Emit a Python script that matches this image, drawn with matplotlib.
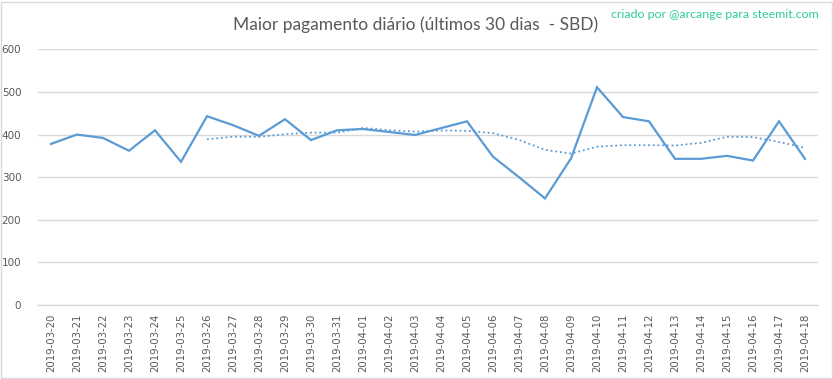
import matplotlib
matplotlib.use("Agg")
import matplotlib.pyplot as plt
import pandas as pd
from matplotlib.patches import Rectangle

dates = ["2019-03-20", "2019-03-21", "2019-03-22", "2019-03-23", "2019-03-24",
         "2019-03-25", "2019-03-26", "2019-03-27", "2019-03-28", "2019-03-29",
         "2019-03-30", "2019-03-31", "2019-04-01", "2019-04-02", "2019-04-03",
         "2019-04-04", "2019-04-05", "2019-04-06", "2019-04-07", "2019-04-08",
         "2019-04-09", "2019-04-10", "2019-04-11", "2019-04-12", "2019-04-13",
         "2019-04-14", "2019-04-15", "2019-04-16", "2019-04-17", "2019-04-18"]
values = [378, 400, 392, 362, 410, 336, 443, 422, 397, 436,
          387, 410, 413, 406, 399, 415, 431, 348, 300, 250,
          344, 511, 441, 431, 343, 343, 350, 339, 431, 343]
yticks = [0, 100, 200, 300, 400, 500, 600]
ma_period = 7

title = "Maior pagamento diário (últimos 30 dias  - SBD)"
credit = "criado por @arcange para steemit.com"

line_color = "#5B9BD5"
text_color = "#595959"
grid_color = "#D9D9D9"

fig = plt.figure(figsize=(8.33, 3.79), dpi=100)
ax = fig.add_axes([38/833, 1-305/379, 780/833, (305-49.3)/379])

x = list(range(len(values)))
ax.plot(x, values, color=line_color, lw=1.6, solid_joinstyle="miter", zorder=3)
ma = pd.Series(values).rolling(ma_period).mean()
ax.plot(x, ma, color=line_color, lw=1.3, linestyle=(0, (1, 1.6)), zorder=3)

ax.set_xlim(-0.5, len(values) - 0.5)
ax.set_ylim(0, 600)
ax.set_yticks(yticks)
ax.set_yticklabels([str(v) for v in yticks], color=text_color, fontsize=7.5)
ax.set_xticks(x)
ax.set_xticklabels(dates, rotation=90, color=text_color, fontsize=7.3)
ax.tick_params(axis="both", length=0, pad=12)
ax.tick_params(axis="x", pad=6)
ax.grid(axis="y", color=grid_color, lw=1.0)
ax.set_axisbelow(True)
for s in ["top", "right", "left"]:
    ax.spines[s].set_visible(False)
ax.spines["bottom"].set_color(grid_color)
ax.spines["bottom"].set_linewidth(1.0)

fig.text(416/833, 1-25/379, title, ha="center", va="center", fontsize=12.5,
         color=text_color, family="Lato", fontweight="normal")
fig.text(819/833, 1-15/379, credit, ha="right", va="center", fontsize=8.9,
         color="#2ECC9A", family="Lato")

fig.patches.append(Rectangle((0.5/833, 1/379), 831/833, 376/379, transform=fig.transFigure,
                             fill=False, edgecolor="#D9D9D9", lw=1.0))

fig.savefig("out.png", dpi=100)
